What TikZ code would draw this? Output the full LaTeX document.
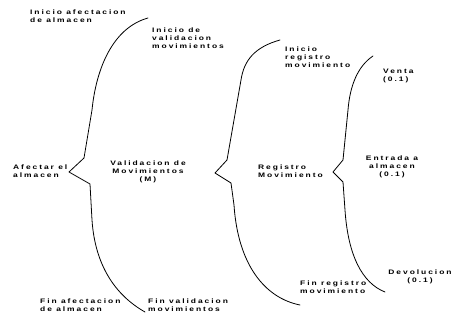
\documentclass[tikz,border=0pt]{standalone}
\usepackage{fontspec}
\setmainfont{Liberation Sans}
\newfontfamily\lblfont[FakeStretch=1.3, LetterSpace=30]{Liberation Sans}
\usetikzlibrary{positioning}

\begin{document}
\begin{tikzpicture}[x=1pt, y=-1pt,
    lbl/.style={inner sep=0pt, anchor=west, align=left, font=\lblfont\fontsize{6.5}{8}\selectfont\bfseries},
    lblc/.style={lbl, anchor=center, align=center},
    brace/.style={line width=0.8pt, line join=round, line cap=round}
]
\useasboundingbox (0,0) rectangle (456,321);

% first level
\node[lbl]  (afectar)    at (13,171)  {Afectar el\\almacen};
% second level
\node[lbl]  (iniafect)   at (30,16)   {Inicio afectacion\\de almacen};
\node[lblc] (validacion) at (148,172) {Validacion de\\Movimientos\\(M)};
\node[lbl]  (finafect)   at (40,305)  {Fin afectacion\\de almacen};
% third level
\node[lbl]  (inival)     at (152,38)  {Inicio de\\validacion\\movimientos};
\node[lbl]  (registro)   at (258,171) {Registro\\Movimiento};
\node[lbl]  (finval)     at (148,305) {Fin validacion\\movimientos};
% fourth level
\node[lbl]  (inireg)     at (285,57)  {Inicio\\registro\\movimiento};
\node[lbl]  (venta)      at (383,76)  {Venta\\(0.1)};
\node[lblc] (entrada)    at (392,167) {Entrada a\\almacen\\(0.1)};
\node[lblc] (devol)      at (420,277) {Devolucion\\(0.1)};
\node[lbl]  (finreg)     at (300,287) {Fin registro\\movimiento};

% braces
\draw[brace] (148,18) .. controls (112,28) and (96,70) .. (92,110) -- (84,158)
    -- (69,172) -- (90,184) -- (92,220) .. controls (95,265) and (115,295) .. (145,312);
\draw[brace] (280,40) .. controls (255,47) and (244,60) .. (241,80) -- (227,160)
    -- (215,173) -- (231,183) -- (234,205) .. controls (238,265) and (265,298) .. (300,305);
\draw[brace] (373,56) .. controls (358,66) and (350,85) .. (348,110) -- (343,160)
    -- (333,172) -- (343,182) -- (345,210) .. controls (348,255) and (362,283) .. (385,292);
\end{tikzpicture}
\end{document}
